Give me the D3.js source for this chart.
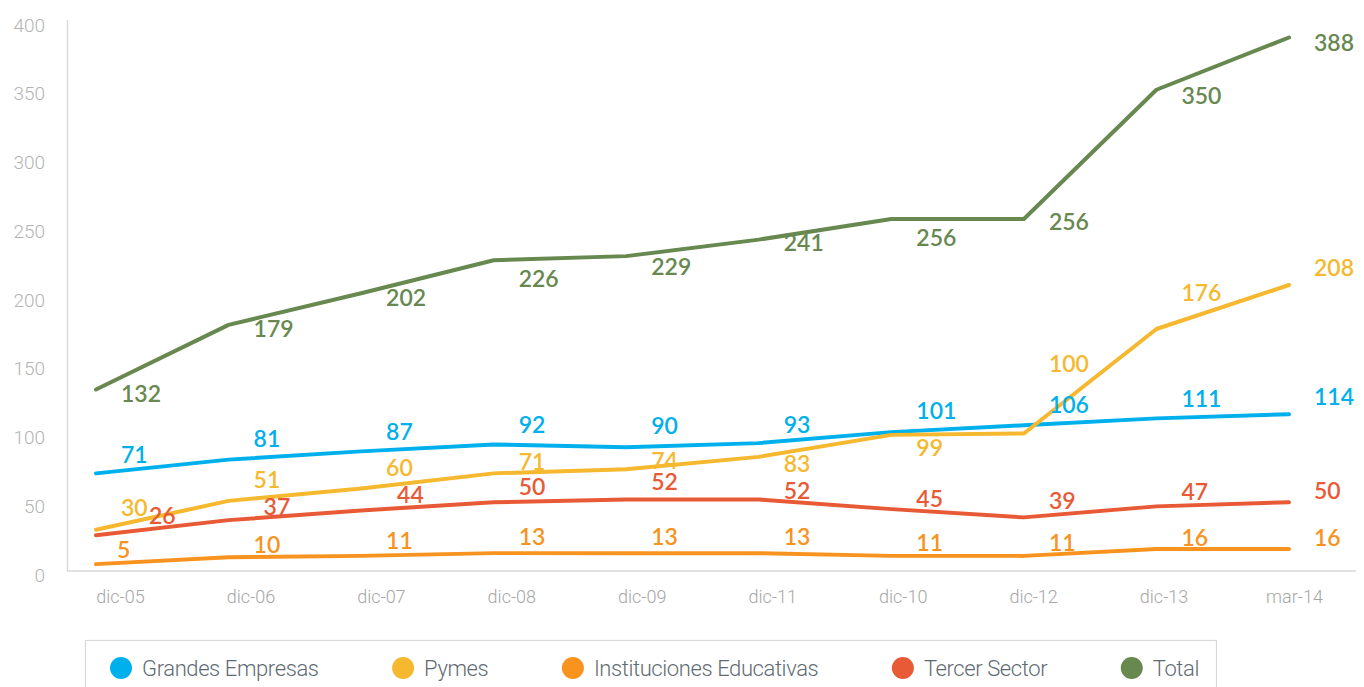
<!DOCTYPE html>
<html>
<head>
<meta charset="utf-8">
<script src="https://cdn.jsdelivr.net/npm/d3@7"></script>
<style>
  html, body { margin: 0; padding: 0; background: #ffffff; }
  svg { display: block; }
</style>
</head>
<body>
<svg id="chart" width="1364" height="687"></svg>
<script>
// Periods on the horizontal axis
const periods = ["dic-05", "dic-06", "dic-07", "dic-08", "dic-09", "dic-11", "dic-10", "dic-12", "dic-13", "mar-14"];

// Values per series
const grandesEmpresas = [71, 81, 87, 92, 90, 93, 101, 106, 111, 114];
const pymes = [30, 51, 60, 71, 74, 83, 99, 100, 176, 208];
const institucionesEducativas = [5, 10, 11, 13, 13, 13, 11, 11, 16, 16];
const tercerSector = [26, 37, 44, 50, 52, 52, 45, 39, 47, 50];
const total = [132, 179, 202, 226, 229, 241, 256, 256, 350, 388];

// Y-axis ticks
const yTicks = [0, 50, 100, 150, 200, 250, 300, 350, 400];

// Series definitions (drawing order: back to front)
const series = [
  { name: "Grandes Empresas", values: grandesEmpresas, color: "#00b0ec",
    labelDy: [-19, -21, -20, -20, -22, -18, -21, -21, -20, -18],
    labelDx: [0, 0, 0, 0, 0, 0, 0, 0, 0, 0] },
  { name: "Pymes", values: pymes, color: "#f5b82e",
    labelDy: [-22, -21, -21, -12, -9, 7, 13, -70, -36, -17],
    labelDx: [0, 0, 0, 0, 0, 0, 0, 0, 0, 0] },
  { name: "Instituciones Educativas", values: institucionesEducativas, color: "#f7931e",
    labelDy: [-14, -13, -15, -16, -16, -16, -13, -13, -11, -11],
    labelDx: [-4, 0, 0, 0, 0, 0, 0, 0, 0, 0] },
  { name: "Tercer Sector", values: tercerSector, color: "#e85a35",
    labelDy: [-20, -13, -16, -16, -18, -9, -10, -17, -15, -12],
    labelDx: [28, 10, 11, 0, 0, 0, 0, 0, 0, 0] },
  { name: "Total", values: total, color: "#67884f",
    labelDy: [4, 4, 4, 18, 11, 3, 19, 3, 6, 5],
    labelDx: [0, 0, 0, 0, 0, 0, 0, 0, 0, 0] }
];

const svg = d3.select("#chart");

// Scales
const x = d3.scalePoint().domain(periods).range([96, 1289]);
const xLabels = d3.scalePoint().domain(periods).range([120, 1294]);
const y = d3.scaleLinear().domain([0, 400]).range([571, 21]);

// Axis lines
const axisColor = "#d9d9d9";
svg.append("line")
  .attr("x1", 67.5).attr("x2", 67.5)
  .attr("y1", y(400) - 1).attr("y2", y(0))
  .attr("stroke", axisColor).attr("stroke-width", 1.5);
svg.append("line")
  .attr("x1", 67).attr("x2", 1356)
  .attr("y1", y(0)).attr("y2", y(0))
  .attr("stroke", axisColor).attr("stroke-width", 1.5);

// Y axis labels
const yAxis = d3.axisLeft(y).tickValues(yTicks).tickSize(0).tickPadding(0);
const yG = svg.append("g").attr("transform", "translate(45,4)").call(yAxis);
yG.select(".domain").remove();
yG.selectAll("text")
  .attr("fill", "#b3b3b3")
  .style("font-family", "Roboto, 'Liberation Sans', sans-serif")
  .style("font-weight", 300)
  .style("font-size", "19px");

// X axis labels
const xAxis = d3.axisBottom(xLabels).tickSize(0).tickPadding(0);
const xG = svg.append("g").attr("transform", "translate(0,590)").call(xAxis);
xG.select(".domain").remove();
xG.selectAll("text")
  .attr("fill", "#a6a6a6")
  .style("font-family", "Roboto, 'Liberation Sans', sans-serif")
  .style("font-weight", 300)
  .style("font-size", "18px");

// Lines
const line = d3.line()
  .x((d, i) => x(periods[i]))
  .y(d => y(d));

svg.append("g").selectAll("path")
  .data(series)
  .join("path")
  .attr("d", s => line(s.values))
  .attr("fill", "none")
  .attr("stroke", s => s.color)
  .attr("stroke-width", 4)
  .attr("stroke-linecap", "round")
  .attr("stroke-linejoin", "round");

// Data labels
const labelG = svg.append("g")
  .style("font-family", "Lato, 'Open Sans', sans-serif")
  .style("font-weight", 600)
  .style("font-size", "23px");

series.forEach(s => {
  labelG.append("g").selectAll("text")
    .data(s.values)
    .join("text")
    .attr("x", (d, i) => x(periods[i]) + 25 + s.labelDx[i])
    .attr("y", (d, i) => y(d) + s.labelDy[i])
    .attr("dy", "0.36em")
    .attr("fill", s.color)
    .text(d => d);
});

// Legend
const legendG = svg.append("g");
legendG.append("rect")
  .attr("x", 85.5).attr("y", 640.5)
  .attr("width", 1131).attr("height", 60)
  .attr("fill", "#ffffff")
  .attr("stroke", "#d9d9d9").attr("stroke-width", 1.2);

const items = legendG.selectAll("g.item")
  .data(series)
  .join("g")
  .attr("class", "item");

items.append("circle")
  .attr("r", 11)
  .attr("cy", 668)
  .attr("fill", s => s.color);

items.append("text")
  .attr("y", 668)
  .attr("dy", "0.36em")
  .attr("fill", "#5f6b73")
  .style("font-family", "Roboto, 'Liberation Sans', sans-serif")
  .style("font-weight", 300)
  .style("font-size", "22px")
  .style("letter-spacing", "-0.4px")
  .text(s => s.name);

// Lay out legend entries with equal gaps between 110 and 1199
const textOffset = 32;
const widths = [];
items.each(function() {
  const tw = d3.select(this).select("text").node().getComputedTextLength();
  widths.push(textOffset + tw);
});
const startX = 110, endX = 1199;
const gap = (endX - startX - d3.sum(widths)) / (widths.length - 1);
let cursor = startX;
items.each(function(d, i) {
  const g = d3.select(this);
  g.select("circle").attr("cx", cursor + 11);
  g.select("text").attr("x", cursor + textOffset);
  cursor += widths[i] + gap;
});
</script>
</body>
</html>
